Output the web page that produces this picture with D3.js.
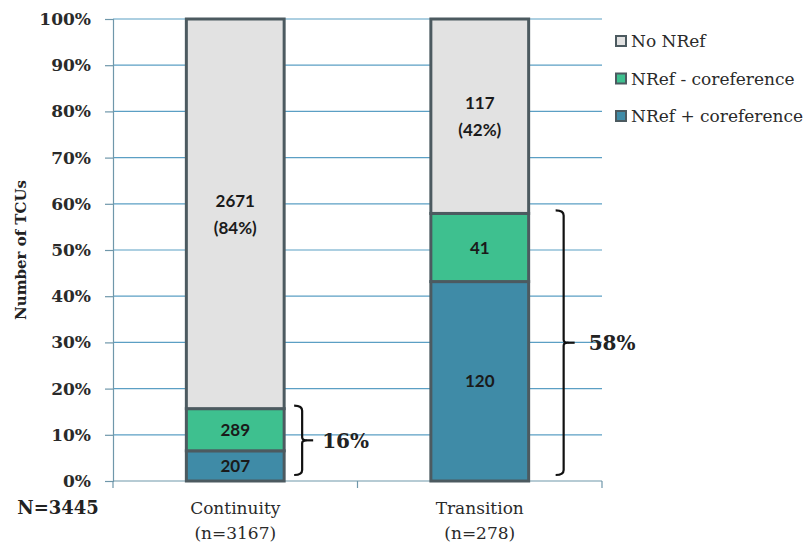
<!DOCTYPE html>
<html>
<head>
<meta charset="utf-8">
<script src="https://cdn.jsdelivr.net/npm/d3@7/dist/d3.min.js"></script>
<style>
  html, body { margin: 0; padding: 0; background: #ffffff; }
  svg { display: block; }
</style>
</head>
<body>
<svg id="chart" width="809" height="545"></svg>
<script>
// Stacked 100% bars: TCU reference types by discourse context
const categories = ["Continuity", "Transition"];
const categoryNotes = ["(n=3167)", "(n=278)"];
const totalLabel = "N=3445";
const seriesNames = ["NRef + coreference", "NRef - coreference", "No NRef"];
const corefPlus = [207, 120];
const corefMinus = [289, 41];
const noNRef = [2671, 117];
const yTickValues = [0, 10, 20, 30, 40, 50, 60, 70, 80, 90, 100];

const colors = {
  "NRef + coreference": "#3f8ba7",
  "NRef - coreference": "#3ec08f",
  "No NRef": "#e2e2e2"
};
const outline = "#4c5a60";
const gridColor = "#5b9fc4";
const serif = "'DejaVu Serif', serif";
const sans = "Lato, 'Open Sans', sans-serif";

const svg = d3.select("#chart");
const margin = { left: 113, right: 207, top: 19, bottom: 64 };
const W = 809, H = 545;

const x = d3.scaleBand()
  .domain(categories)
  .range([margin.left, W - margin.right])
  .paddingInner(0.6)
  .paddingOuter(0.3);
const y = d3.scaleLinear().domain([0, 100]).range([H - margin.bottom, margin.top]);

// Build stacked percentages
const rows = categories.map((c, i) => {
  const vals = { "NRef + coreference": corefPlus[i], "NRef - coreference": corefMinus[i], "No NRef": noNRef[i] };
  const total = corefPlus[i] + corefMinus[i] + noNRef[i];
  const r = { category: c, total, counts: vals };
  seriesNames.forEach(s => r[s] = vals[s] / total * 100);
  return r;
});
const stack = d3.stack().keys(seriesNames)(rows);

// Gridlines
svg.append("g").selectAll("line")
  .data(yTickValues.filter(v => v > 0))
  .join("line")
  .attr("x1", margin.left).attr("x2", W - margin.right)
  .attr("y1", d => y(d)).attr("y2", d => y(d))
  .attr("stroke", gridColor).attr("stroke-width", 1.2);

// Y axis
const yAxis = svg.append("g")
  .attr("transform", `translate(${margin.left},0)`)
  .call(d3.axisLeft(y).tickValues(yTickValues).tickFormat(d => d + "%").tickSize(8).tickPadding(14));
yAxis.select(".domain").attr("stroke", "#6f97aa").attr("stroke-width", 1.2);
yAxis.selectAll(".tick line").attr("stroke", "#6f97aa").attr("stroke-width", 1.2);
yAxis.selectAll("text")
  .attr("font-family", serif).attr("font-size", 17).attr("font-weight", 600)
  .attr("fill", "#2a2a2a");

// X axis baseline with separator ticks
const xBase = svg.append("g");
xBase.append("line")
  .attr("x1", margin.left).attr("x2", W - margin.right)
  .attr("y1", y(0)).attr("y2", y(0))
  .attr("stroke", "#6f97aa").attr("stroke-width", 1.2);
const bandEdges = [margin.left, (x("Continuity") + x.bandwidth() + x("Transition")) / 2, W - margin.right];
xBase.selectAll("line.sep").data(bandEdges).join("line").attr("class", "sep")
  .attr("x1", d => d).attr("x2", d => d)
  .attr("y1", y(0)).attr("y2", y(0) + 7)
  .attr("stroke", "#6f97aa").attr("stroke-width", 1.2);

// Bars
const layers = svg.append("g").selectAll("g")
  .data(stack).join("g")
  .attr("fill", d => colors[d.key]);
layers.selectAll("rect")
  .data(d => d.map(p => ({ key: d.key, p })))
  .join("rect")
  .attr("x", d => x(d.p.data.category))
  .attr("width", x.bandwidth())
  .attr("y", d => y(d.p[1]))
  .attr("height", d => y(d.p[0]) - y(d.p[1]))
  .attr("stroke", outline).attr("stroke-width", 3);

// Segment labels
const labelG = svg.append("g");
stack.forEach(layer => {
  layer.forEach(p => {
    const r = p.data;
    const cx = x(r.category) + x.bandwidth() / 2;
    const cy = y((p[0] + p[1]) / 2);
    const count = r.counts[layer.key];
    const t = labelG.append("text")
      .attr("x", cx).attr("text-anchor", "middle")
      .attr("font-family", sans).attr("font-weight", 700).attr("font-size", 17)
      .attr("fill", "#1a1a1a");
    if (layer.key === "No NRef") {
      t.attr("y", cy - 7);
      t.append("tspan").attr("x", cx).text(count);
      t.append("tspan").attr("x", cx).attr("dy", 27)
        .text("(" + Math.round(count / r.total * 100) + "%)");
    } else {
      t.attr("y", cy).attr("dy", "0.36em").text(count);
    }
  });
});

// Curly braces spanning the coreference share
function bracePath(x0, yTop, yBot, w, tip) {
  const ym = (yTop + yBot) / 2;
  const r = 5;
  const xs = x0 + w;
  return `M${x0},${yTop} Q${xs},${yTop} ${xs},${yTop + r}` +
         ` L${xs},${ym - 3} Q${xs},${ym} ${xs + tip},${ym}` +
         ` Q${xs},${ym} ${xs},${ym + 3}` +
         ` L${xs},${yBot - r} Q${xs},${yBot} ${x0},${yBot}`;
}
const bracketG = svg.append("g");
rows.forEach((r, i) => {
  const share = r["NRef + coreference"] + r["NRef - coreference"];
  const bx = x(r.category) + x.bandwidth() + (i === 0 ? 10 : 27);
  const yTop = y(share) - 3;
  const yBot = y(0) - 6;
  bracketG.append("path")
    .attr("d", bracePath(bx, yTop, yBot, 8, 4))
    .attr("fill", "none").attr("stroke", "#111").attr("stroke-width", 2.2)
    .attr("stroke-linejoin", "round");
  bracketG.append("line")
    .attr("x1", bx + 12).attr("x2", bx + 19)
    .attr("y1", (yTop + yBot) / 2).attr("y2", (yTop + yBot) / 2)
    .attr("stroke", "#111").attr("stroke-width", 2.2);
  bracketG.append("text")
    .attr("x", bx + (i === 0 ? 28 : 33)).attr("y", (yTop + yBot) / 2).attr("dy", "0.36em")
    .attr("font-family", serif).attr("font-weight", 700).attr("font-size", 20)
    .attr("fill", "#222")
    .text(Math.round(share) + "%");
});

// Category labels
const catG = svg.append("g");
categories.forEach((c, i) => {
  const cx = x(c) + x.bandwidth() / 2;
  catG.append("text").attr("x", cx).attr("y", 514).attr("text-anchor", "middle")
    .attr("font-family", serif).attr("font-size", 17).attr("fill", "#2a2a2a").text(c);
  catG.append("text").attr("x", cx).attr("y", 539).attr("text-anchor", "middle")
    .attr("font-family", serif).attr("font-size", 17).attr("fill", "#2a2a2a").text(categoryNotes[i]);
});
svg.append("text").attr("x", 58).attr("y", 514).attr("text-anchor", "middle")
  .attr("font-family", serif).attr("font-weight", 700).attr("font-size", 18)
  .attr("fill", "#222").text(totalLabel);

// Y axis title
svg.append("text")
  .attr("transform", `translate(26,${(y(0) + y(100)) / 2}) rotate(-90)`)
  .attr("text-anchor", "middle")
  .attr("font-family", serif).attr("font-weight", 700).attr("font-size", 15)
  .attr("fill", "#222").text("Number of TCUs");

// Legend (top to bottom: No NRef, NRef - coreference, NRef + coreference)
const legendItems = seriesNames.slice().reverse();
const legend = svg.append("g").attr("transform", "translate(616,0)");
legendItems.forEach((s, i) => {
  const ly = 41 + i * 37.5;
  legend.append("rect").attr("x", 0).attr("y", ly - 5).attr("width", 10).attr("height", 10)
    .attr("fill", colors[s]).attr("stroke", outline).attr("stroke-width", 2);
  legend.append("text").attr("x", 15).attr("y", ly).attr("dy", "0.36em")
    .attr("font-family", serif).attr("font-size", 17).attr("fill", "#2a2a2a").text(s);
});
</script>
</body>
</html>
